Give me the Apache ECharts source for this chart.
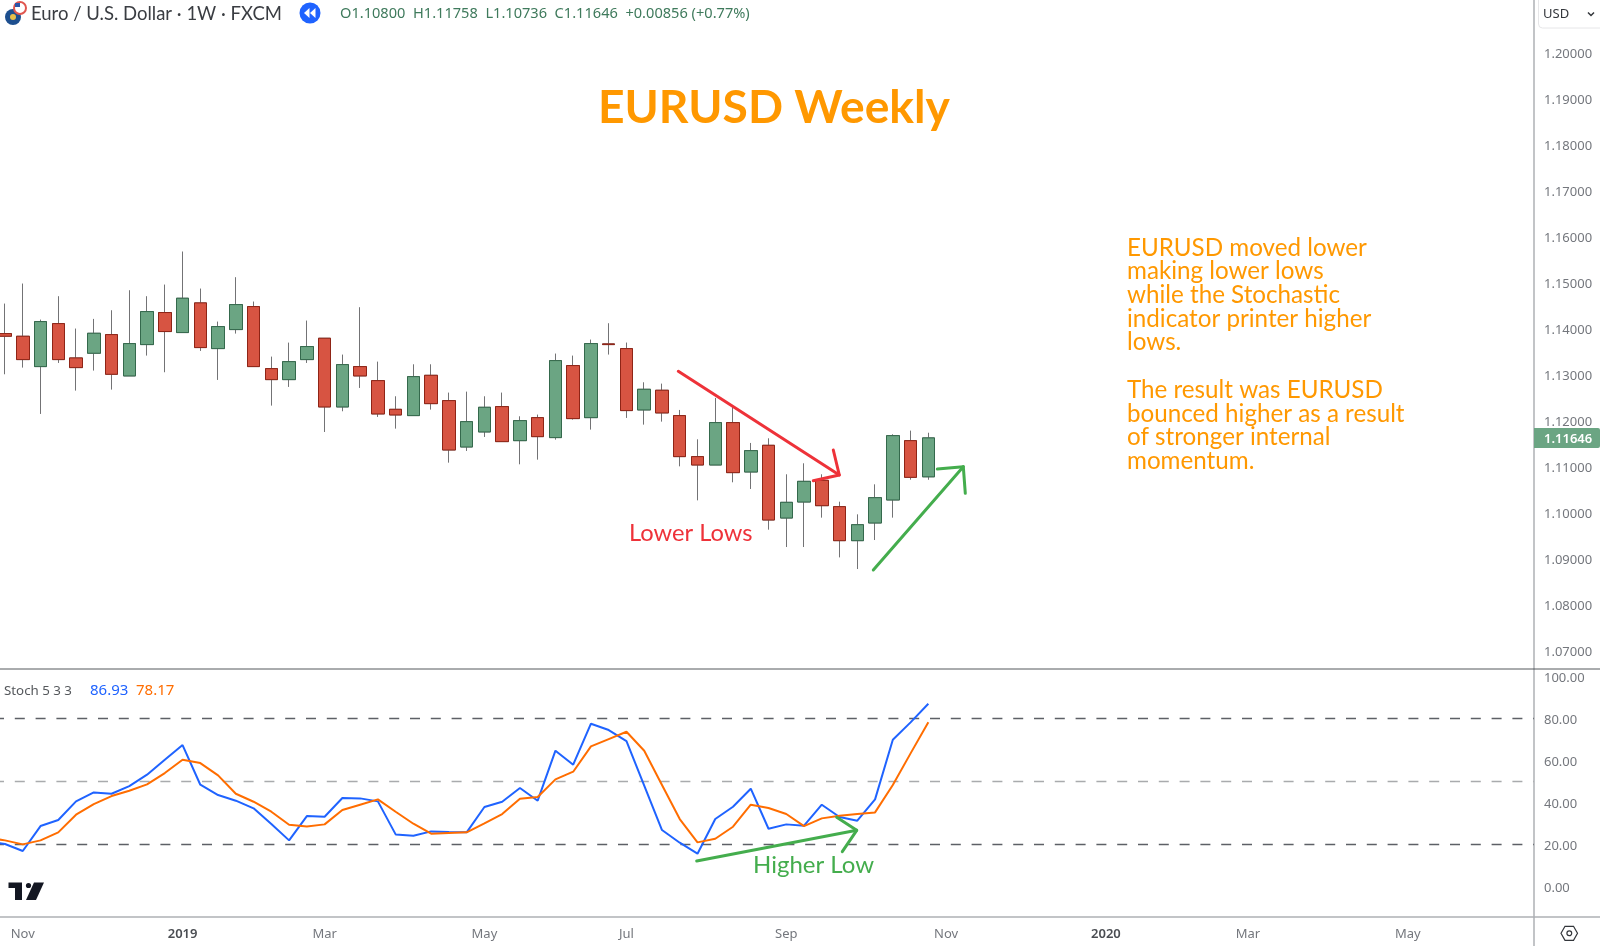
<!DOCTYPE html>
<html><head><meta charset="utf-8">
<style>html,body{margin:0;padding:0;background:#fff}#c{width:1600px;height:946px}</style>
<script src="https://cdn.jsdelivr.net/npm/echarts@6/dist/echarts.min.js"></script>
</head><body><div id="c"></div>
<script>
// Weekly EURUSD candles, first bar is the week of 2018-10-29
const opens=[1.13912,1.13854,1.13195,1.14129,1.13383,1.13485,1.1389,1.12992,1.13673,1.14369,1.13934,1.14579,1.13586,1.13999,1.14499,1.13151,1.12912,1.13347,1.13811,1.12318,1.13195,1.1289,1.12267,1.1213,1.13006,1.12456,1.11448,1.11775,1.12326,1.11586,1.12086,1.11652,1.13217,1.12086,1.13688,1.13586,1.12253,1.12681,1.1213,1.11239,1.11057,1.11978,1.10905,1.11485,1.09905,1.10253,1.10724,1.10152,1.09413,1.09797,1.10297,1.11586,1.108];
const closes=[1.13854,1.13347,1.14173,1.13347,1.13173,1.13919,1.13028,1.13695,1.1439,1.13956,1.1468,1.13608,1.14064,1.14542,1.13195,1.12912,1.13303,1.1363,1.12318,1.13238,1.12992,1.12166,1.12144,1.12977,1.1239,1.11383,1.11999,1.12311,1.11565,1.12021,1.11673,1.13325,1.12065,1.13695,1.13673,1.12239,1.12702,1.12188,1.11239,1.11057,1.11978,1.10891,1.11369,1.09862,1.10246,1.10702,1.10173,1.09413,1.0976,1.10347,1.11695,1.10789,1.11646];
const lows=[1.13028,1.13173,1.12166,1.13274,1.12673,1.13108,1.12695,1.12992,1.13434,1.13072,1.13934,1.13535,1.12905,1.13912,1.13195,1.12347,1.12753,1.13274,1.11774,1.12224,1.12731,1.12101,1.11847,1.1213,1.1226,1.11108,1.11362,1.11666,1.11565,1.11072,1.11173,1.11608,1.12043,1.11826,1.13456,1.12079,1.11934,1.11999,1.11028,1.10289,1.11057,1.10681,1.10536,1.09652,1.09275,1.09275,1.09913,1.0905,1.08797,1.09427,1.09913,1.10738,1.10736];
const highs=[1.14564,1.14999,1.14216,1.14724,1.14021,1.14231,1.14419,1.14854,1.14724,1.14977,1.15695,1.1489,1.14173,1.15137,1.14608,1.13412,1.13716,1.14195,1.13811,1.13456,1.14485,1.13303,1.1255,1.13245,1.13245,1.1263,1.12651,1.1255,1.1263,1.12115,1.12152,1.13478,1.13434,1.13782,1.14137,1.13717,1.12854,1.12825,1.12253,1.11615,1.12514,1.12318,1.11536,1.11637,1.10855,1.11094,1.10855,1.1026,1.09985,1.10637,1.11724,1.11804,1.11758];
// Stochastic, starting one week before the first candle
const stochK=[21.57,20.14,16.81,28.71,31.57,40.46,44.74,44.11,47.76,53.16,60.3,67.28,48.39,43.47,40.78,37.13,29.66,21.89,33.47,33.16,42.05,41.89,40.46,24.74,24.11,26.17,25.86,25.7,37.76,40.3,46.81,40.78,64.59,57.92,77.44,74.43,69.19,47.92,26.81,20.78,15.54,32.05,37.92,46.49,27.44,29.51,28.87,38.87,33,31.25,41.41,69.83,78.08,86.93];
const stochD=[23.16,21.89,19.98,21.89,25.7,34.11,39.19,43,45.54,48.55,53.95,60.3,58.71,52.84,44.11,40.3,35.54,29.35,28.55,29.51,36.33,38.87,41.41,35.54,29.82,25.06,25.38,25.7,29.98,34.43,41.73,42.52,50.94,54.59,66.65,70.14,73.63,64.59,48.24,32.05,20.94,22.68,28.4,38.87,37.29,34.43,28.71,32.37,33.63,34.43,35.22,48.24,63.32,78.17];
const timeTickWeeks=[1,10,18,27,35,44,53,62,70,79];
const timeTickLabels=['Nov','2019','Mar','May','Jul','Sep','Nov','2020','Mar','May'];
const priceTicks=[1.07,1.08,1.09,1.10,1.11,1.12,1.13,1.14,1.15,1.16,1.17,1.18,1.19,1.20];
const stochTicks=[0,20,40,60,80,100];
const stochBands=[80,50,20];
const noteText='EURUSD moved lower\nmaking lower lows\nwhile the Stochastic\nindicator printer higher\nlows.\n\nThe result was EURUSD\nbounced higher as a result\nof stronger internal\nmomentum.';

const FONT='"Lato","Open Sans",sans-serif';
const AXF='"Noto Sans",sans-serif';
const axisGrey='#aeb0b4', labelGrey='#74777d';
const weekMin=-0.2816, weekMax=86.11;
const idx=opens.map((_,i)=>i);
const full=idx.map(i=>[i,opens[i],closes[i],lows[i],highs[i]]);
const bodies=idx.map(i=>[i,opens[i],closes[i],Math.min(opens[i],closes[i]),Math.max(opens[i],closes[i])]);
const kData=stochK.map((v,i)=>[i-1,v]);
const dData=stochD.map((v,i)=>[i-1,v]);
const xMap={};timeTickWeeks.forEach((w,i)=>xMap[w]=timeTickLabels[i]);

function arrow(pts,color,w){return {type:'polyline',z:50,shape:{points:pts},style:{stroke:color,lineWidth:w||3,fill:null,lineCap:'round',lineJoin:'round'}};}
function txt(x,y,t,size,color,extra){return {type:'text',z:50,x:x,y:y,style:Object.assign({text:t,fontSize:size,fill:color,fontFamily:FONT,textVerticalAlign:'middle',verticalAlign:'middle'},extra||{})};}
function line(x1,y1,x2,y2,c,w){return {type:'line',z:40,shape:{x1,y1,x2,y2},style:{stroke:c,lineWidth:w||1}};}

const chart=echarts.init(document.getElementById('c'),null,{renderer:'canvas',width:1600,height:946});
const red='#ee3239', green='#44ad4d', orange='#ff9800';
chart.setOption({
 animation:false,backgroundColor:'#fff',
 grid:[{left:0,top:0,width:1534,height:669},{left:0,top:669,width:1534,height:248}],
 xAxis:[
  {type:'value',gridIndex:0,min:weekMin,max:weekMax,axisLine:{show:false,onZero:false},axisTick:{show:false},axisLabel:{show:false},splitLine:{show:false}},
  {type:'value',gridIndex:1,position:'bottom',min:weekMin,max:weekMax,axisLine:{show:false,onZero:false},axisTick:{show:false},splitLine:{show:false},
   axisLabel:{customValues:timeTickWeeks,margin:11,fontSize:13,fontFamily:AXF,color:labelGrey,hideOverlap:false,
    formatter:v=>{const s=xMap[Math.round(v)]||'';return /^\d+$/.test(s)?'{y|'+s+'}':s;},
    rich:{y:{fontSize:13,fontFamily:AXF,fontWeight:600,color:'#4a4d52'}}}}
 ],
 yAxis:[
  {type:'value',gridIndex:0,position:'right',min:1.06625,max:1.21159,axisLine:{show:true,onZero:false,lineStyle:{color:axisGrey,width:1.5}},axisTick:{show:false},splitLine:{show:false},
   axisLabel:{customValues:priceTicks,margin:10,fontSize:13,fontFamily:AXF,color:labelGrey,formatter:v=>'{a|'+v.toFixed(5)+'}',
    rich:{a:{fontSize:13,fontFamily:AXF,color:labelGrey,padding:[2,0,0,0]}}}},
  {type:'value',gridIndex:1,position:'right',min:-14.6,max:103.5,axisLine:{show:true,onZero:false,lineStyle:{color:axisGrey,width:1.5}},axisTick:{show:false},splitLine:{show:false},
   axisLabel:{customValues:stochTicks,margin:10,fontSize:13,fontFamily:AXF,color:labelGrey,formatter:v=>'{a|'+v.toFixed(2)+'}',
    rich:{a:{fontSize:13,fontFamily:AXF,color:labelGrey,padding:[4,0,0,0]}}}}
 ],
 series:[
  {type:'candlestick',name:'wicks',xAxisIndex:0,yAxisIndex:0,data:full,barWidth:13,encode:{x:0,y:[1,2,3,4]},z:2,
   itemStyle:{color:'#6BA583',color0:'#D75442',borderColor:'#737375',borderColor0:'#737375',borderWidth:1}},
  {type:'candlestick',name:'bodies',xAxisIndex:0,yAxisIndex:0,data:bodies,barWidth:13,encode:{x:0,y:[1,2,3,4]},z:3,
   itemStyle:{color:'#6BA583',color0:'#D75442',borderColor:'#34694c',borderColor0:'#8f2416',borderWidth:1}},
  {type:'line',name:'%K',xAxisIndex:1,yAxisIndex:1,data:kData,symbol:'none',z:4,lineStyle:{color:'#1f63ff',width:2},
   markLine:{silent:true,symbol:'none',label:{show:false},animation:false,z:1,
    data:stochBands.map(v=>({yAxis:v,lineStyle:{color:v===50?'#a9abad':'#5d6066',width:1.3,type:[10,10.8],dashOffset:6}}))}},
  {type:'line',name:'%D',xAxisIndex:1,yAxisIndex:1,data:dData,symbol:'none',z:5,lineStyle:{color:'#ff6d00',width:2}}
 ],
 graphic:{elements:[
  // pane borders
  line(0,669,1600,669,'#55585c',1),
  line(0,917,1600,917,axisGrey,1.5),
  line(1534,917,1534,946,axisGrey,1.5),
  // header
  {type:'circle',z:50,shape:{cx:13,cy:17,r:8},style:{fill:'#1d4f8f'}},
  {type:'circle',z:50,shape:{cx:13,cy:17,r:3},style:{fill:'#e8c04a'}},
  {type:'circle',z:51,shape:{cx:20,cy:8,r:6},style:{fill:'#fff',stroke:'#e0564f',lineWidth:2}},
  {type:'rect',z:52,shape:{x:15,y:3,width:5,height:4},style:{fill:'#2b56a8'}},
  txt(31,14,'Euro / U.S. Dollar · 1W · FXCM',18.5,'#3a3d42'),
  {type:'circle',z:50,shape:{cx:310,cy:13,r:10.5},style:{fill:'#1f63ff'}},
  {type:'polygon',z:51,shape:{points:[[309.5,8],[304,13],[309.5,18]]},style:{fill:'#fff'}},
  {type:'polygon',z:51,shape:{points:[[315.5,8],[310,13],[315.5,18]]},style:{fill:'#fff'}},
  txt(340,14,'O1.10800  H1.11758  L1.10736  C1.11646  +0.00856 (+0.77%)',14.6,'#3f7a5c',{fontFamily:AXF}),
  // currency button
  {type:'rect',z:50,shape:{x:1538.5,y:-6,width:70,height:34,r:4},style:{fill:'#fff',stroke:'#e6e6e8',lineWidth:1}},
  txt(1543,14,'USD',13,'#33363b',{fontFamily:AXF}),
  {type:'polyline',z:51,shape:{points:[[1588,12.5],[1591,15.5],[1594,12.5]]},style:{stroke:'#33363b',lineWidth:1.5,fill:null}},
  // last price tag
  {type:'rect',z:50,shape:{x:1534,y:428,width:66,height:20,r:[0,2,2,0]},style:{fill:'#6BA583'}},
  txt(1544,439,closes[closes.length-1].toFixed(5),13,'#fff',{fontFamily:AXF,fontWeight:600}),
  // indicator legend
  txt(4,691,'Stoch 5 3 3',13.3,'#55585c',{fontFamily:AXF}),
  txt(90,691,stochK[stochK.length-1].toFixed(2),15,'#1f63ff',{fontFamily:AXF}),
  txt(136,691,stochD[stochD.length-1].toFixed(2),15,'#ff6d00',{fontFamily:AXF}),
  // annotations
  txt(598,108,'EURUSD Weekly',46.2,orange,{fontWeight:700}),
  txt(1127,354.5,noteText,24.2,orange,{lineHeight:23.7}),
  txt(629,533.5,'Lower Lows',23.7,red),
  txt(753,865,'Higher Low',24,green),
  arrow([[678.3,371.3],[839.3,475]],red),
  arrow([[833.3,450],[839.3,475],[813.3,480.7]],red),
  arrow([[873.3,570],[963.3,466.7]],green),
  arrow([[937.3,469],[963.3,466.7],[965.3,493.3]],green),
  arrow([[696.7,861],[856.7,830.3]],green),
  arrow([[836.7,817.3],[856.7,830.3],[842.3,851.7]],green),
  // TradingView mark
  {type:'polygon',z:50,shape:{points:[[8.5,882.5],[22,882.5],[22,900],[15,900],[15,888],[8.5,888]]},style:{fill:'#131722'}},
  {type:'circle',z:50,shape:{cx:28.5,cy:885.5,r:2.6},style:{fill:'#131722'}},
  {type:'polygon',z:50,shape:{points:[[34,882.5],[44,882.5],[36,900],[26,900]]},style:{fill:'#131722'}},
  // settings hexagon
  {type:'polygon',z:50,shape:{points:[[1561,933.3],[1565,926.3],[1573.5,926.3],[1577.5,933.3],[1573.5,940.3],[1565,940.3]]},style:{fill:'#fff',stroke:'#33363b',lineWidth:1.2}},
  {type:'circle',z:51,shape:{cx:1569.3,cy:933.3,r:2.4},style:{fill:'#fff',stroke:'#33363b',lineWidth:1.2}}
 ]}
});
</script></body></html>
